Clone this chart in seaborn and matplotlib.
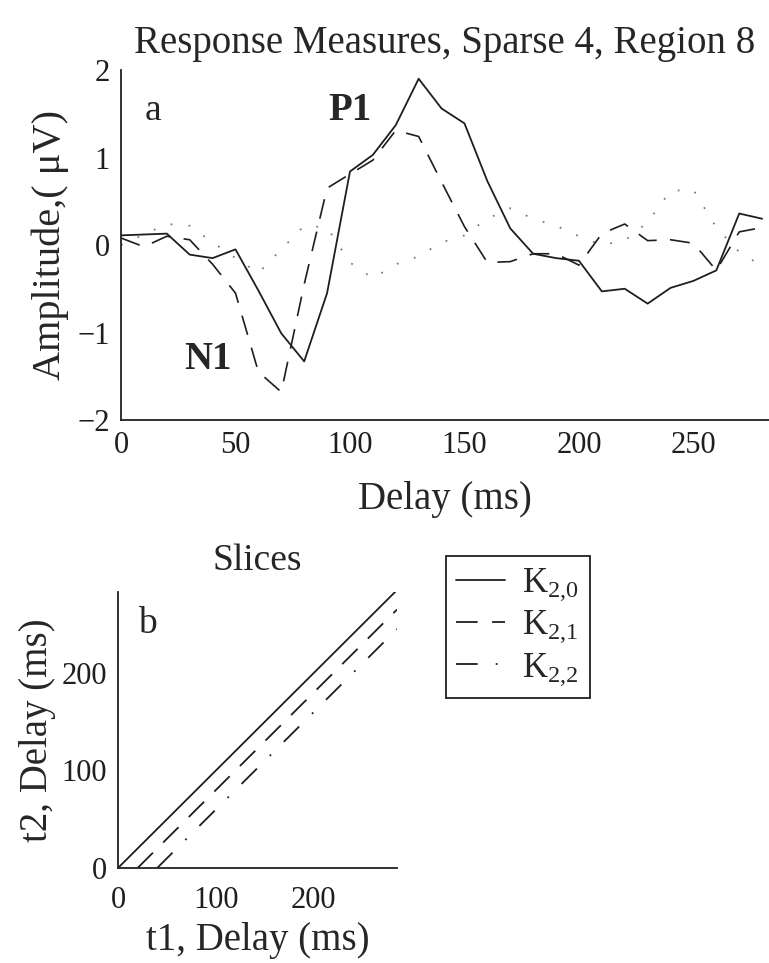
import matplotlib
matplotlib.use("Agg")
import matplotlib.pyplot as plt
import seaborn as sns
import pandas as pd

# panel a: first and second order response measures, sampled every 10 ms
delay = [0, 10, 20, 30, 40, 50, 60, 70, 80, 90, 100, 110, 120, 130, 140,
         150, 160, 170, 180, 190, 200, 210, 220, 230, 240, 250, 260, 270, 280]
k20 = [0.11, 0.12, 0.13, -0.11, -0.15, -0.05, -0.52, -1.01, -1.33, -0.55, 0.84,
       1.03, 1.37, 1.90, 1.56, 1.39, 0.73, 0.19, -0.10, -0.15, -0.18, -0.53,
       -0.50, -0.67, -0.49, -0.41, -0.29, 0.36, 0.30]
k21 = [0.08, -0.02, 0.10, 0.06, -0.22, -0.55, -1.45, -1.68, -0.45, 0.65, 0.81,
       0.97, 1.31, 1.24, 0.72, 0.21, -0.20, -0.19, -0.10, -0.10, -0.23, 0.13,
       0.24, 0.05, 0.06, 0.02, -0.29, 0.15, 0.20]
k22 = [0.00, 0.12, 0.24, 0.22, 0.03, -0.15, -0.32, -0.05, 0.22, 0.20, -0.20,
       -0.38, -0.22, -0.13, 0.03, 0.11, 0.30, 0.42, 0.30, 0.22, 0.10, 0.00,
       0.05, 0.26, 0.62, 0.63, 0.20, -0.08, -0.24]

# panel b: slices through the second order kernel (t2 = t1 - lag)
t1_range = [0, 285]
slice_lags = [0, 20, 40]
slice_names = ["$\\mathregular{K_{2{,}0}}$", "$\\mathregular{K_{2{,}1}}$",
               "$\\mathregular{K_{2{,}2}}$"]

sns.set_style("white")
plt.rcParams["font.family"] = ["Liberation Serif", "DejaVu Serif"]
plt.rcParams["mathtext.fontset"] = "custom"
plt.rcParams["mathtext.rm"] = "Liberation Serif"
plt.rcParams["axes.linewidth"] = 1.3
plt.rcParams["axes.edgecolor"] = "#222222"

ink = "#1e1e1e"
fig = plt.figure(figsize=(7.69, 9.63), dpi=100)

# ---- panel a
ax1 = fig.add_axes([121 / 769, 1 - 420 / 963, 1 - 121 / 769, 350 / 963])
df = pd.DataFrame({"delay": delay, "k20": k20, "k21": k21, "k22": k22})
sns.lineplot(data=df, x="delay", y="k22", ax=ax1, color="#7a7a7a", lw=1.3,
             linestyle=(0, (1, 9)))
sns.lineplot(data=df, x="delay", y="k21", ax=ax1, color=ink, lw=1.2,
             linestyle=(0, (12, 8)))
sns.lineplot(data=df, x="delay", y="k20", ax=ax1, color=ink, lw=1.3)

ax1.set_xlim(0, 283)
ax1.set_ylim(-2, 2)
ax1.set_xticks([0, 50, 100, 150, 200, 250])
ax1.set_yticks([-2, -1, 0, 1, 2])
ax1.set_yticklabels(["\u22122", "\u22121", "0", "1", "2"])
ax1.set_xlabel("Delay (ms)", fontsize=28, labelpad=15)
ax1.set_ylabel("Amplitude,( \u03bcV)", fontsize=29, labelpad=6)
ax1.set_title("Response Measures, Sparse 4, Region 8", fontsize=28, pad=12)
ax1.text(14, 1.54, "a", fontsize=27, ha="center", va="center")
ax1.text(100, 1.54, "P1", fontsize=28, fontweight="bold", ha="center", va="center")
ax1.text(38, -1.31, "N1", fontsize=28, fontweight="bold", ha="center", va="center")

# ---- panel b
ax2 = fig.add_axes([118 / 769, 1 - 868 / 963, 279 / 769, 276 / 963])
styles = ["-", (0, (12, 8)), (0, (12, 10, 1, 10))]
handles = []
for lag, name, ls in zip(slice_lags, slice_names, styles):
    x = [t1_range[0] + lag, t1_range[1]]
    y = [t1_range[0], t1_range[1] - lag]
    sns.lineplot(x=x, y=y, ax=ax2, color=ink, lw=1.3, linestyle=ls)
    handles.append(ax2.lines[-1])

ax2.set_xlim(0, 285)
ax2.set_ylim(0, 283)
ax2.set_xticks([0, 100, 200])
ax2.set_yticks([0, 100, 200])
ax2.set_xlabel("t1, Delay (ms)", fontsize=28, labelpad=5)
ax2.set_ylabel("t2, Delay (ms)", fontsize=28, labelpad=4)
ax2.set_title("Slices", fontsize=27, pad=16)
ax2.text(30, 250, "b", fontsize=27, ha="center", va="center")

leg = fig.legend(handles, slice_names, loc="upper left",
                 bbox_to_anchor=(446 / 769, 1 - 556 / 963), fontsize=25,
                 frameon=True, fancybox=False, framealpha=1, edgecolor=ink,
                 handlelength=1.4, handletextpad=0.5, labelspacing=0.15,
                 borderpad=0.3, borderaxespad=0)
leg.get_frame().set_linewidth(1.3)

for ax in (ax1, ax2):
    sns.despine(ax=ax)
    ax.tick_params(direction="in", length=5, width=1.1, labelsize=22,
                   colors=ink, pad=8)
ax2.tick_params(axis="x", pad=13)

fig.savefig("out.png", dpi=100, facecolor="white")
